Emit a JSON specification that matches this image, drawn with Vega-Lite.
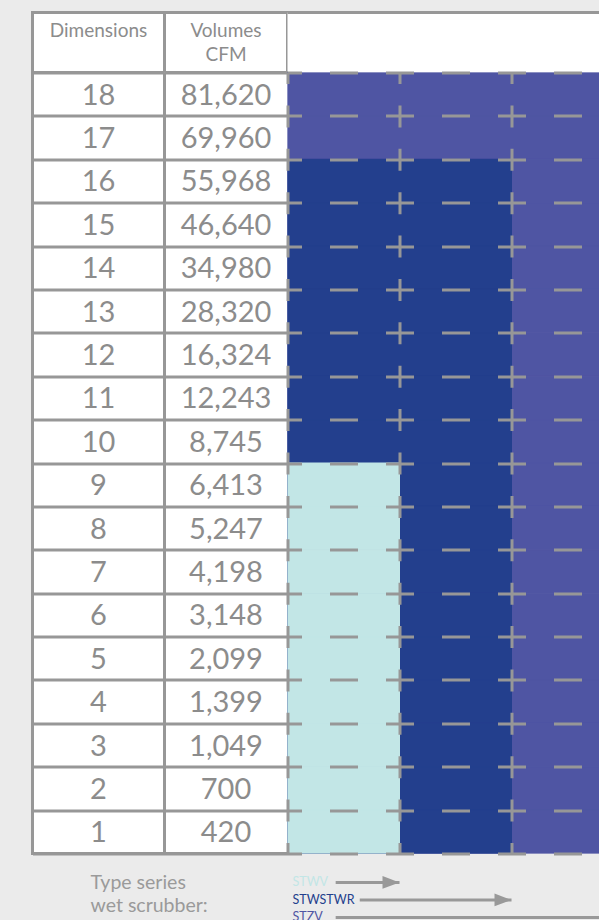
{
  "$schema": "https://vega.github.io/schema/vega-lite/v6.json",
  "background": "#ebebeb",
  "padding": {"left": 30.5, "top": 10.5, "right": 0, "bottom": 0},
  "config": {
    "view": {"stroke": null},
    "font": "Lato",
    "text": {"font": "Lato"}
  },
  "datasets": {
    "headers": [
      {"column": "Dimensions", "label": ["Dimensions"]},
      {"column": "Volumes", "label": ["Volumes", "CFM"]}
    ],
    "notes": [
      {"label": ["Type series", "wet scrubber:"]}
    ],
    "table": [
      {"dim": "18", "cfm": "81,620"},
      {"dim": "17", "cfm": "69,960"},
      {"dim": "16", "cfm": "55,968"},
      {"dim": "15", "cfm": "46,640"},
      {"dim": "14", "cfm": "34,980"},
      {"dim": "13", "cfm": "28,320"},
      {"dim": "12", "cfm": "16,324"},
      {"dim": "11", "cfm": "12,243"},
      {"dim": "10", "cfm": "8,745"},
      {"dim": "9", "cfm": "6,413"},
      {"dim": "8", "cfm": "5,247"},
      {"dim": "7", "cfm": "4,198"},
      {"dim": "6", "cfm": "3,148"},
      {"dim": "5", "cfm": "2,099"},
      {"dim": "4", "cfm": "1,399"},
      {"dim": "3", "cfm": "1,049"},
      {"dim": "2", "cfm": "700"},
      {"dim": "1", "cfm": "420"}
    ],
    "coverage": [
      {"series": "STZV", "dim": "18", "reach": 3},
      {"series": "STZV", "dim": "17", "reach": 3},
      {"series": "STZV", "dim": "16", "reach": 3},
      {"series": "STZV", "dim": "15", "reach": 3},
      {"series": "STZV", "dim": "14", "reach": 3},
      {"series": "STZV", "dim": "13", "reach": 3},
      {"series": "STZV", "dim": "12", "reach": 3},
      {"series": "STZV", "dim": "11", "reach": 3},
      {"series": "STZV", "dim": "10", "reach": 3},
      {"series": "STZV", "dim": "9", "reach": 3},
      {"series": "STZV", "dim": "8", "reach": 3},
      {"series": "STZV", "dim": "7", "reach": 3},
      {"series": "STZV", "dim": "6", "reach": 3},
      {"series": "STZV", "dim": "5", "reach": 3},
      {"series": "STZV", "dim": "4", "reach": 3},
      {"series": "STZV", "dim": "3", "reach": 3},
      {"series": "STZV", "dim": "2", "reach": 3},
      {"series": "STZV", "dim": "1", "reach": 3},
      {"series": "STWSTWR", "dim": "16", "reach": 2},
      {"series": "STWSTWR", "dim": "15", "reach": 2},
      {"series": "STWSTWR", "dim": "14", "reach": 2},
      {"series": "STWSTWR", "dim": "13", "reach": 2},
      {"series": "STWSTWR", "dim": "12", "reach": 2},
      {"series": "STWSTWR", "dim": "11", "reach": 2},
      {"series": "STWSTWR", "dim": "10", "reach": 2},
      {"series": "STWSTWR", "dim": "9", "reach": 2},
      {"series": "STWSTWR", "dim": "8", "reach": 2},
      {"series": "STWSTWR", "dim": "7", "reach": 2},
      {"series": "STWSTWR", "dim": "6", "reach": 2},
      {"series": "STWSTWR", "dim": "5", "reach": 2},
      {"series": "STWSTWR", "dim": "4", "reach": 2},
      {"series": "STWSTWR", "dim": "3", "reach": 2},
      {"series": "STWSTWR", "dim": "2", "reach": 2},
      {"series": "STWSTWR", "dim": "1", "reach": 2},
      {"series": "STWV", "dim": "9", "reach": 1},
      {"series": "STWV", "dim": "8", "reach": 1},
      {"series": "STWV", "dim": "7", "reach": 1},
      {"series": "STWV", "dim": "6", "reach": 1},
      {"series": "STWV", "dim": "5", "reach": 1},
      {"series": "STWV", "dim": "4", "reach": 1},
      {"series": "STWV", "dim": "3", "reach": 1},
      {"series": "STWV", "dim": "2", "reach": 1},
      {"series": "STWV", "dim": "1", "reach": 1}
    ],
    "series": [
      {"series": "STWV", "labelEnd": 0.43, "reach": 1},
      {"series": "STWSTWR", "labelEnd": 0.645, "reach": 2},
      {"series": "STZV", "labelEnd": 0.43, "reach": 3}
    ]
  },
  "concat": [
    {
      "width": 132, "height": 60,
      "view": {"fill": "white", "stroke": "#979797", "strokeWidth": 3},
      "data": {"name": "headers"},
      "transform": [{"filter": "datum.column === 'Dimensions'"}],
      "mark": {"type": "text", "baseline": "top", "dy": -21, "fontSize": 19, "lineHeight": 24.5, "color": "#8c8c8c"},
      "encoding": {"text": {"field": "label", "type": "nominal"}}
    },
    {
      "width": 123, "height": 60,
      "view": {"fill": "white", "stroke": "#979797", "strokeWidth": 3},
      "data": {"name": "headers"},
      "transform": [{"filter": "datum.column === 'Volumes'"}],
      "mark": {"type": "text", "baseline": "top", "dy": -21, "fontSize": 19, "lineHeight": 24.5, "color": "#8c8c8c"},
      "encoding": {"text": {"field": "label", "type": "nominal"}}
    },
    {
      "width": 312, "height": 60,
      "view": {"fill": "white", "stroke": "#979797", "strokeWidth": 3, "strokeDash": [312, 2000]},
      "data": {"name": "notes"},
      "mark": {"type": "text", "opacity": 0},
      "encoding": {"text": {"value": ""}}
    },
    {
      "width": 132, "height": 781,
      "view": {"fill": "white", "stroke": "#979797", "strokeWidth": 3},
      "data": {"name": "table"},
      "mark": {"type": "text", "fontSize": 29, "color": "#8c8c8c", "baseline": "middle", "dy": 1.5},
      "encoding": {
        "y": {
          "field": "dim", "type": "nominal", "sort": null,
          "scale": {"type": "band", "paddingInner": 0, "paddingOuter": 0},
          "axis": {"title": null, "labels": false, "ticks": false, "domain": false, "grid": true, "tickBand": "extent", "gridColor": "#979797", "gridWidth": 3}
        },
        "text": {"field": "dim", "type": "nominal"}
      }
    },
    {
      "width": 123, "height": 781,
      "view": {"fill": "white", "stroke": "#979797", "strokeWidth": 3, "strokeDash": [123, 781, 904, 0]},
      "data": {"name": "table"},
      "mark": {"type": "text", "fontSize": 29, "color": "#8c8c8c", "baseline": "middle", "dy": 1.5},
      "encoding": {
        "y": {
          "field": "dim", "type": "nominal", "sort": null,
          "scale": {"type": "band", "paddingInner": 0, "paddingOuter": 0},
          "axis": {"title": null, "labels": false, "ticks": false, "domain": false, "grid": true, "tickBand": "extent", "gridColor": "#979797", "gridWidth": 3}
        },
        "text": {"field": "cfm", "type": "nominal"}
      }
    },
    {
      "width": 312, "height": 781,
      "data": {"name": "coverage"},
      "mark": {"type": "bar", "clip": true, "strokeWidth": 1},
      "encoding": {
        "y": {
          "field": "dim", "type": "nominal",
          "scale": {"type": "band", "domain": ["18","17","16","15","14","13","12","11","10","9","8","7","6","5","4","3","2","1"], "paddingInner": 0, "paddingOuter": 0},
          "axis": {"title": null, "labels": false, "ticks": false, "domain": false, "grid": true, "tickBand": "extent", "gridColor": "#979797", "gridWidth": 3, "gridDash": [28, 28], "gridDashOffset": 14, "zindex": 1}
        },
        "x": {
          "field": "reach", "type": "quantitative", "stack": null,
          "scale": {"domain": [0, 2.7857], "nice": false, "zero": true},
          "axis": {"title": null, "labels": false, "ticks": false, "domain": false, "grid": true, "values": [0, 1, 2], "gridColor": "#979797", "gridWidth": 3, "gridDash": [22, 21.389], "gridDashOffset": 11, "zindex": 1}
        },
        "color": {
          "field": "series", "type": "nominal",
          "scale": {"domain": ["STWV", "STWSTWR", "STZV"], "range": ["#c2e6e6", "#233f8d", "#4f55a3"]},
          "legend": null
        },
        "stroke": {
          "field": "series", "type": "nominal",
          "scale": {"domain": ["STWV", "STWSTWR", "STZV"], "range": ["#c2e6e6", "#233f8d", "#4f55a3"]},
          "legend": null
        }
      }
    },
    {
      "width": 132, "height": 67,
      "data": {"name": "notes"},
      "mark": {"type": "text", "align": "left", "baseline": "top", "dx": -8, "dy": -13, "fontSize": 19.5, "lineHeight": 23, "color": "#9a9a9a"},
      "encoding": {"text": {"field": "label", "type": "nominal"}}
    },
    {
      "width": 123, "height": 67,
      "data": {"name": "notes"},
      "mark": {"type": "text", "opacity": 0},
      "encoding": {"text": {"value": ""}}
    },
    {
      "width": 312, "height": 67,
      "data": {"name": "series"},
      "encoding": {
        "y": {
          "field": "series", "type": "nominal",
          "scale": {"type": "point", "domain": ["STWV", "STWSTWR", "STZV"], "padding": 0.914, "align": 0.906},
          "axis": null
        }
      },
      "layer": [
        {
          "mark": {"type": "rule", "clip": true, "color": "#999999", "strokeWidth": 3},
          "encoding": {
            "x": {"field": "labelEnd", "type": "quantitative", "scale": {"domain": [0, 2.7857], "nice": false, "zero": true}, "axis": null},
            "x2": {"field": "reach"}
          }
        },
        {
          "mark": {"type": "point", "clip": true, "filled": true, "opacity": 1, "color": "#999999", "shape": "M-2,-0.75L0,0L-2,0.75Z", "size": 289},
          "encoding": {
            "x": {"field": "reach", "type": "quantitative"}
          }
        },
        {
          "mark": {"type": "text", "align": "left", "baseline": "middle", "dx": 5, "fontSize": 12.5},
          "encoding": {
            "x": {"datum": 0, "type": "quantitative"},
            "text": {"field": "series", "type": "nominal"},
            "color": {"field": "series", "type": "nominal", "legend": null}
          }
        }
      ]
    }
  ],
  "columns": 3,
  "spacing": 0,
  "align": "each",
  "bounds": "flush"
}
